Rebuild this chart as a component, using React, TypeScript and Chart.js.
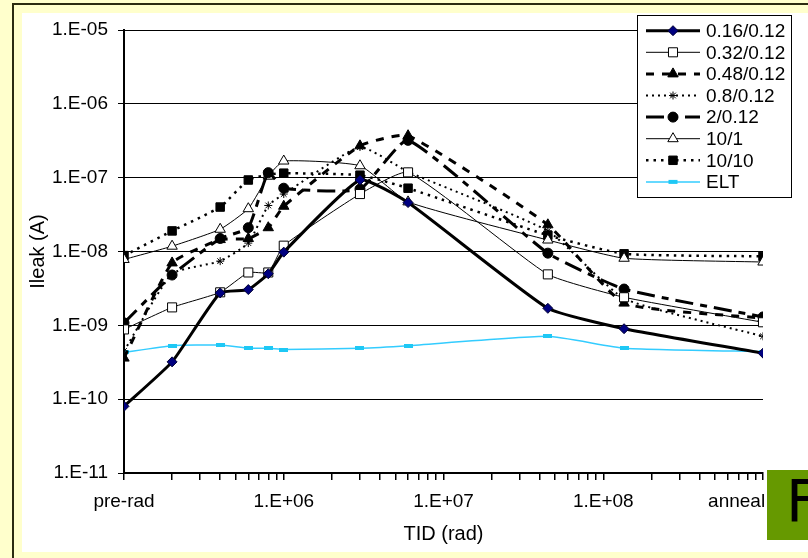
import React, { useEffect, useRef } from 'react';
import { Chart, registerables } from 'chart.js';

Chart.register(...registerables);

// ---- data ----
const TID = [1e5, 2e5, 4e5, 6e5, 8e5, 1e6, 3e6, 6e6, 4.5e7, 1.35e8, 1e9];
const S_016 = [8e-11, 3.2e-10, 2.75e-9, 3.05e-9, 5.0e-9, 9.8e-9, 9.3e-8, 4.6e-8, 1.7e-9, 9.0e-10, 4.2e-10];
const S_032 = [8.8e-10, 1.75e-9, 2.8e-9, 5.2e-9, 5.2e-9, 1.2e-8, 6.0e-8, 1.18e-7, 4.9e-9, 2.4e-9, 1.1e-9];
const S_048 = [3.6e-10, 7.0e-9, 1.45e-8, 1.5e-8, 2.1e-8, 4.1e-8, 2.7e-7, 3.7e-7, 2.3e-8, 2.0e-9, 1.25e-9];
const S_08 = [4.5e-10, 5.0e-9, 7.4e-9, 1.3e-8, 4.2e-8, 6.0e-8, 2.6e-7, 1.2e-7, 1.9e-8, 2.3e-9, 7.1e-10];
const S_2 = [1.08e-9, 4.8e-9, 1.5e-8, 2.1e-8, 1.17e-7, 7.2e-8, 7.0e-8, 3.2e-7, 9.5e-9, 3.1e-9, 1.3e-9];
const S_10_1 = [7.8e-9, 1.18e-8, 2.0e-8, 3.8e-8, 1.05e-7, 1.68e-7, 1.45e-7, 4.7e-8, 1.43e-8, 8.1e-9, 7.2e-9];
const S_10_10 = [8.8e-9, 1.9e-8, 4.0e-8, 9.3e-8, 1.1e-7, 1.15e-7, 1.08e-7, 7.2e-8, 1.66e-8, 9.3e-9, 8.6e-9];
const S_ELT = [4.3e-10, 5.3e-10, 5.4e-10, 4.9e-10, 4.9e-10, 4.7e-10, 4.9e-10, 5.3e-10, 7.1e-10, 4.9e-10, 4.4e-10];

const SERIES_NAMES = ['0.16/0.12', '0.32/0.12', '0.48/0.12', '0.8/0.12', '2/0.12', '10/1', '10/10', 'ELT'];

const X_LABEL_VALUES = [1e5, 1e6, 1e7, 1e8, 1e9];
const X_LABEL_TEXTS = ['pre-rad', '1.E+06', '1.E+07', '1.E+08', 'anneal'];
const Y_TICK_VALUES = [1e-11, 1e-10, 1e-9, 1e-8, 1e-7, 1e-6, 1e-5];
const Y_TICK_TEXTS = ['1.E-11', '1.E-10', '1.E-09', '1.E-08', '1.E-07', '1.E-06', '1.E-05'];

const FONT = '"Liberation Sans", Arial, sans-serif';

type Style = {
  color: string;
  width: number;
  dash: number[];
  marker: string;
  radius: number;
  fill: string;
  stroke: string;
};

const STYLES: Style[] = [
  { color: '#000', width: 3, dash: [], marker: 'rectRot', radius: 5, fill: '#000080', stroke: '#000033' },
  { color: '#000', width: 1, dash: [], marker: 'rect', radius: 6.4, fill: '#fff', stroke: '#000' },
  { color: '#000', width: 3, dash: [8, 8], marker: 'triangle', radius: 6, fill: '#000', stroke: '#000' },
  { color: '#000', width: 2, dash: [2, 4], marker: 'star', radius: 4, fill: '#000', stroke: '#000' },
  { color: '#000', width: 3, dash: [18, 7, 7, 7], marker: 'circle', radius: 5, fill: '#000', stroke: '#000' },
  { color: '#000', width: 1, dash: [], marker: 'triangle', radius: 6, fill: '#fff', stroke: '#000' },
  { color: '#000', width: 2.5, dash: [2.5, 5], marker: 'rect', radius: 6, fill: '#000', stroke: '#000' },
  { color: '#33CCFF', width: 1.5, dash: [], marker: 'bar', radius: 4, fill: '#1EC8F5', stroke: '#1EC8F5' },
];

function matchIdx(values: number[], v: number) {
  return values.findIndex((t) => Math.abs(Math.log10(t) - Math.log10(v)) < 1e-6);
}

function drawMarker(ctx: CanvasRenderingContext2D, s: Style, x: number, y: number) {
  const r = s.radius;
  ctx.save();
  ctx.setLineDash([]);
  ctx.lineWidth = 1;
  ctx.fillStyle = s.fill;
  ctx.strokeStyle = s.stroke;
  ctx.beginPath();
  switch (s.marker) {
    case 'rectRot':
      ctx.moveTo(x, y - r); ctx.lineTo(x + r, y); ctx.lineTo(x, y + r); ctx.lineTo(x - r, y); ctx.closePath();
      ctx.fill(); ctx.stroke(); break;
    case 'rect': {
      const h = r * Math.SQRT1_2;
      ctx.rect(x - h, y - h, 2 * h, 2 * h); ctx.fill(); ctx.stroke(); break;
    }
    case 'triangle':
      ctx.moveTo(x, y - r); ctx.lineTo(x + 0.866 * r, y + 0.5 * r); ctx.lineTo(x - 0.866 * r, y + 0.5 * r); ctx.closePath();
      ctx.fill(); ctx.stroke(); break;
    case 'circle':
      ctx.arc(x, y, r, 0, Math.PI * 2); ctx.fill(); ctx.stroke(); break;
    case 'star': {
      const d = r * Math.SQRT1_2;
      ctx.moveTo(x - r, y); ctx.lineTo(x + r, y); ctx.moveTo(x, y - r); ctx.lineTo(x, y + r);
      ctx.moveTo(x - d, y - d); ctx.lineTo(x + d, y + d); ctx.moveTo(x - d, y + d); ctx.lineTo(x + d, y - d);
      ctx.stroke(); break;
    }
    case 'bar':
      ctx.fillRect(x - 4.5, y - 2, 9, 4); break;
  }
  ctx.restore();
}

const legendPlugin = {
  id: 'boxLegend',
  afterDraw(chart: any) {
    const ctx: CanvasRenderingContext2D = chart.ctx;
    const left = 615, top = 2, right = 769, bottom = 184;
    ctx.save();
    ctx.fillStyle = '#fff';
    ctx.fillRect(left, top, right - left, bottom - top);
    ctx.strokeStyle = '#000';
    ctx.lineWidth = 1;
    ctx.setLineDash([]);
    ctx.strokeRect(left + 0.5, top + 0.5, right - left, bottom - top);
    chart.data.datasets.forEach((ds: any, i: number) => {
      const s = STYLES[i];
      const y = 17.7 + i * 21.6;
      ctx.save();
      ctx.strokeStyle = s.color;
      ctx.lineWidth = s.width;
      ctx.setLineDash(s.dash);
      ctx.beginPath();
      ctx.moveTo(624, y);
      ctx.lineTo(678, y);
      ctx.stroke();
      ctx.restore();
      drawMarker(ctx, s, 651, y);
      ctx.fillStyle = '#000';
      ctx.font = `19px ${FONT}`;
      ctx.textAlign = 'left';
      ctx.textBaseline = 'middle';
      ctx.fillText(ds.label, 684, y + 1);
    });
    ctx.restore();
  },
};

export default function App() {
  const ref = useRef<HTMLCanvasElement>(null);

  useEffect(() => {
    if (!ref.current) return;
    const eltMark = document.createElement('canvas');
    eltMark.width = 9;
    eltMark.height = 4;
    const mctx = eltMark.getContext('2d')!;
    mctx.fillStyle = '#1EC8F5';
    mctx.fillRect(0, 0, 9, 4);

    const all = [S_016, S_032, S_048, S_08, S_2, S_10_1, S_10_10, S_ELT];
    const datasets = all.map((vals, i) => {
      const s = STYLES[i];
      return {
        label: SERIES_NAMES[i],
        data: TID.map((x, k) => ({ x, y: vals[k] })),
        borderColor: s.color,
        borderWidth: s.width,
        borderDash: s.dash,
        backgroundColor: s.fill,
        pointBackgroundColor: s.fill,
        pointBorderColor: s.stroke,
        pointBorderWidth: 1,
        pointRadius: s.radius,
        pointStyle: s.marker === 'bar' ? eltMark : s.marker,
        tension: 0.15,
        fill: false,
      };
    });

    const chart = new Chart(ref.current, {
      type: 'line',
      data: { datasets },
      plugins: [legendPlugin],
      options: {
        animation: false,
        responsive: false,
        devicePixelRatio: 1,
        layout: { padding: { left: 0, top: 17, right: 45, bottom: 0 } },
        plugins: { legend: { display: false }, tooltip: { enabled: false } },
        scales: {
          x: {
            type: 'logarithmic',
            min: 1e5,
            max: 1e9,
            afterBuildTicks: (scale: any) => {
              const t: number[] = [];
              for (let d = 5; d <= 8; d++) for (let m = 1; m <= 9; m++) t.push(m * Math.pow(10, d));
              t.push(1e9);
              scale.ticks = t.map((v) => ({ value: v }));
            },
            afterFit: (scale: any) => {
              scale.height = 79;
              scale.paddingLeft = 0;
              scale.paddingRight = 0;
            },
            ticks: {
              autoSkip: false,
              maxRotation: 0,
              minRotation: 0,
              padding: 10,
              color: '#000',
              font: { family: FONT, size: 19 },
              callback: (v: any) => {
                const i = matchIdx(X_LABEL_VALUES, Number(v));
                if (i < 0) return '';
                // the last label sits left of its tick, as in the original
                return i === X_LABEL_VALUES.length - 1 ? X_LABEL_TEXTS[i] + '          ' : X_LABEL_TEXTS[i];
              },
            },
            grid: { drawOnChartArea: false, drawTicks: true, tickLength: 7, color: '#000', lineWidth: 1.5 },
            border: { color: '#000', width: 2 },
            title: { display: true, text: 'TID (rad)', color: '#000', font: { family: FONT, size: 20 }, padding: { top: 0, bottom: 6 } },
          },
          y: {
            type: 'logarithmic',
            min: 1e-11,
            max: 1e-5,
            afterBuildTicks: (scale: any) => { scale.ticks = Y_TICK_VALUES.map((v) => ({ value: v })); },
            afterFit: (scale: any) => {
              scale.width = 102;
              scale.paddingTop = 0;
              scale.paddingBottom = 0;
            },
            ticks: {
              autoSkip: false,
              padding: 10,
              color: '#000',
              font: { family: FONT, size: 19 },
              callback: (v: any) => {
                const i = matchIdx(Y_TICK_VALUES, Number(v));
                return i >= 0 ? Y_TICK_TEXTS[i] : '';
              },
            },
            grid: { color: '#000', lineWidth: 1, tickLength: 6, drawTicks: true },
            border: { color: '#000', width: 2 },
            title: { display: true, text: 'Ileak (A)', color: '#000', font: { family: FONT, size: 20 }, padding: { top: 4, bottom: 0 } },
          },
        },
      } as any,
    });
    return () => chart.destroy();
  }, []);

  return (
    <div style={{ position: 'fixed', left: 0, top: 0, width: 808, height: 558, background: '#FFFFCC', overflow: 'hidden' }}>
      <div style={{ position: 'absolute', left: 12, top: 3, width: 800, height: 560, borderLeft: '2px solid #2b2b10', borderTop: '2px solid #2b2b10' }} />
      <div style={{ position: 'absolute', left: 22, top: 13, width: 786, height: 539, background: '#fff' }}>
        <canvas ref={ref} width={786} height={539} style={{ display: 'block' }} />
      </div>
      <div style={{ position: 'absolute', left: 767, top: 470, width: 41, height: 70, background: '#669900', overflow: 'hidden' }}>
        <span style={{ position: 'absolute', left: 19, top: 3, fontFamily: '"DejaVu Sans", sans-serif', fontSize: 58, lineHeight: '58px', color: '#000' }}>F</span>
      </div>
    </div>
  );
}
